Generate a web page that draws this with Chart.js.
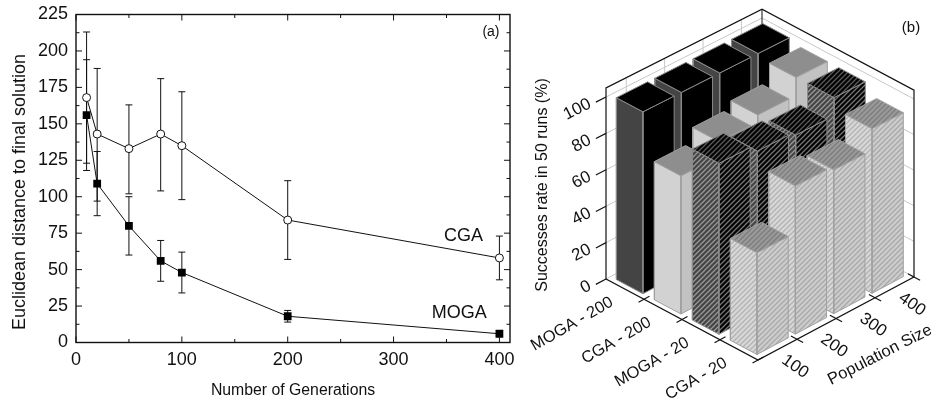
<!DOCTYPE html>
<html>
<head>
<meta charset="utf-8">
<script src="https://cdn.jsdelivr.net/npm/chart.js@4/dist/chart.umd.min.js"></script>
<style>
  body { margin: 0; background: #fff; }
  canvas { position: absolute; top: 0; }
  #panel-a { left: 0; }
  #panel-b { left: 520px; }
</style>
</head>
<body>
<canvas id="panel-a" width="520" height="400"></canvas>
<canvas id="panel-b" width="411" height="400"></canvas>
<script>
const FONT = '"Liberation Sans", Arial, sans-serif';
const INK = '#111';

// panel (a)
const generations = [10, 20, 50, 80, 100, 200, 400];
const cgaMean = [168, 143, 133, 143, 135, 84, 58];
const cgaHigh = [213, 188, 163, 181, 172, 111, 73];
const cgaLow = [123, 97, 102, 104, 98, 57, 43];
const mogaMean = [156, 109, 80, 56, 48, 18, 6];
const mogaHigh = [194, 131, 100, 70, 62, 22, 7];
const mogaLow = [118, 87, 60, 42, 34, 14, 5];
const genTicks = [0, 50, 100, 150, 200, 250, 300, 350, 400];
const distTicks = [0, 12.5, 25, 37.5, 50, 62.5, 75, 87.5, 100, 112.5, 125, 137.5, 150, 162.5, 175, 187.5, 200, 212.5, 225];

// panel (b)
const categories = ['MOGA - 200', 'CGA - 200', 'MOGA - 20', 'CGA - 20'];
const popSizes = [100, 200, 300, 400];
const moga200 = [100, 100, 100, 100];
const cga200 = [76, 84, 88, 98];
const moga20 = [94, 90, 88, 98];
const cga20 = [56, 82, 80, 92];
const rateTicks = [0, 20, 40, 60, 80, 100];

const hatch = (bg, fg) => {
  const n = 5;
  const c = document.createElement('canvas');
  c.width = c.height = n;
  const g = c.getContext('2d');
  g.fillStyle = bg;
  g.fillRect(0, 0, n, n);
  g.strokeStyle = fg;
  g.lineWidth = 1.25;
  g.beginPath();
  g.moveTo(-1, 1); g.lineTo(1, -1);
  g.moveTo(-1, n + 1); g.lineTo(n + 1, -1);
  g.moveTo(n - 1, n + 1); g.lineTo(n + 1, n - 1);
  g.stroke();
  return g.createPattern(c, 'repeat');
};

const errorBars = {
  id: 'errorBars',
  beforeDatasetsDraw(chart) {
    const { ctx, scales: { x, y } } = chart;
    ctx.save();
    ctx.strokeStyle = INK;
    ctx.lineWidth = 1;
    [[cgaHigh, cgaLow], [mogaHigh, mogaLow]].forEach(([high, low]) => {
      generations.forEach((g, i) => {
        const px = x.getPixelForValue(g);
        const top = y.getPixelForValue(high[i]);
        const bot = y.getPixelForValue(low[i]);
        ctx.beginPath();
        ctx.moveTo(px, top); ctx.lineTo(px, bot);
        ctx.moveTo(px - 3.5, top); ctx.lineTo(px + 3.5, top);
        ctx.moveTo(px - 3.5, bot); ctx.lineTo(px + 3.5, bot);
        ctx.stroke();
      });
    });
    ctx.restore();
  }
};

// ticks point inward on all four sides, chart.js can't do that on its own
const frame = {
  id: 'frame',
  afterDatasetsDraw(chart) {
    const { ctx, chartArea: a, scales: { x, y } } = chart;
    ctx.save();
    ctx.strokeStyle = INK;
    ctx.lineWidth = 1.4;
    ctx.strokeRect(a.left, a.top, a.width, a.height);
    ctx.lineWidth = 1;
    ctx.beginPath();
    genTicks.forEach(t => {
      const px = x.getPixelForValue(t);
      const len = t % 100 === 0 ? 6 : 3.5;
      ctx.moveTo(px, a.bottom); ctx.lineTo(px, a.bottom - len);
      ctx.moveTo(px, a.top); ctx.lineTo(px, a.top + len);
    });
    distTicks.forEach(t => {
      const py = y.getPixelForValue(t);
      const len = t % 25 === 0 ? 6 : 3.5;
      ctx.moveTo(a.left, py); ctx.lineTo(a.left + len, py);
      ctx.moveTo(a.right, py); ctx.lineTo(a.right - len, py);
    });
    ctx.stroke();
    ctx.fillStyle = INK;
    ctx.textAlign = 'center';
    ctx.textBaseline = 'middle';
    ctx.font = `18px ${FONT}`;
    ctx.fillText('CGA', x.getPixelForValue(366), y.getPixelForValue(73));
    ctx.fillText('MOGA', x.getPixelForValue(362), y.getPixelForValue(20));
    ctx.font = `14px ${FONT}`;
    ctx.fillText('(a)', x.getPixelForValue(392), y.getPixelForValue(213));
    // y title sits lower than the axis centre
    ctx.font = `18px ${FONT}`;
    ctx.translate(20, 192);
    ctx.rotate(-Math.PI / 2);
    ctx.fillText('Euclidean distance to final solution', 0, 0);
    ctx.restore();
  }
};

const points = ys => generations.map((g, i) => ({ x: g, y: ys[i] }));

new Chart(document.getElementById('panel-a'), {
  type: 'scatter',
  data: {
    datasets: [
      {
        label: 'CGA', data: points(cgaMean), showLine: true,
        borderColor: INK, borderWidth: 1, pointStyle: 'circle', pointRadius: 4,
        pointBackgroundColor: '#fff', pointBorderColor: INK, pointBorderWidth: 1
      },
      {
        label: 'MOGA', data: points(mogaMean), showLine: true,
        borderColor: INK, borderWidth: 1, pointStyle: 'rect', pointRadius: 5.5,
        pointBackgroundColor: '#000', pointBorderColor: '#000', pointBorderWidth: 0
      }
    ]
  },
  options: {
    responsive: false,
    animation: false,
    layout: { padding: { top: 14.5, right: 10 } },
    plugins: { legend: { display: false }, tooltip: { enabled: false } },
    scales: {
      x: {
        type: 'linear', min: 0, max: 410,
        afterBuildTicks: s => { s.ticks = genTicks.map(value => ({ value })); },
        afterFit: s => { s.height = 57.5; s.paddingLeft = 0; s.paddingRight = 0; },
        grid: { display: false, drawTicks: false },
        border: { display: false },
        ticks: {
          maxRotation: 0, autoSkip: false, padding: 7, color: INK,
          font: { family: FONT, size: 18 },
          callback: v => (v % 100 === 0 ? String(v) : '')
        },
        title: {
          display: true, text: 'Number of Generations', color: INK,
          font: { family: FONT, size: 15.8 }, padding: { top: 5, bottom: 0 }
        }
      },
      y: {
        min: 0, max: 225,
        afterBuildTicks: s => { s.ticks = distTicks.map(value => ({ value })); },
        afterFit: s => { s.width = 76; s.paddingTop = 0; s.paddingBottom = 0; },
        grid: { display: false, drawTicks: false },
        border: { display: false },
        ticks: {
          autoSkip: false, padding: 8, color: INK,
          font: { family: FONT, size: 18 },
          callback: v => (v % 25 === 0 ? String(v) : '')
        }
      }
    }
  },
  plugins: [errorBars, frame]
});

// panel (b): u runs along the categories, v along the population sizes
const corner = { x: 606, y: 279 };
const uStep = { x: 152, y: 81 };
const vStep = { x: 156, y: -83 };
const project = (u, v, h = 0) => ({
  x: corner.x + u * uStep.x + v * vStep.x,
  y: corner.y + u * uStep.y + v * vStep.y - h * (1.82 - 0.04 * v)
});

const rows = [
  { values: moga200, left: '#444', right: '#000', top: '#000', edge: '#8a8a8a' },
  { values: cga200, left: '#d2d2d2', right: '#c2c2c2', top: '#8e8e8e', edge: '#a0a0a0' },
  { values: moga20, left: hatch('#444', '#999'), right: hatch('#000', '#777'), top: hatch('#000', '#5c5c5c'), edge: '#8a8a8a' },
  { values: cga20, left: hatch('#d8d8d8', '#b2b2b2'), right: hatch('#cdcdcd', '#a8a8a8'), top: hatch('#9a9a9a', '#7c7c7c'), edge: '#a0a0a0' }
];

const polyline = (pts, color, width = 1, fillColor = null) => ({
  data: pts,
  showLine: true,
  pointRadius: 0,
  borderColor: color,
  borderWidth: width,
  backgroundColor: fillColor || 'transparent',
  fill: fillColor ? 'shape' : false
});

const sets = [];
const WALL = 105;
const GRID = '#c8c8c8';

// wall grid first so the bars cover it
rateTicks.forEach(t => {
  sets.push(polyline([project(0, 0, t), project(0, 1, t)], GRID));
  sets.push(polyline([project(0, 1, t), project(1, 1, t)], GRID));
});
popSizes.forEach((p, j) => {
  const v = 0.13 + j * 0.246;
  sets.push(polyline([project(0, v, 0), project(0, v, WALL)], GRID));
});

// box outline
sets.push(polyline([project(0, 0), project(0, 0, WALL), project(0, 1, WALL), project(1, 1, WALL), project(1, 1)], INK, 1.2));
sets.push(polyline([project(0, 1, 70), project(0, 1, WALL)], INK, 1));
sets.push(polyline([project(0, 0), project(1, 0), project(1, 1)], INK, 1.4));

// tick marks
rateTicks.forEach(t => {
  sets.push(polyline([project(0, 0, t), project(0, -0.065, t)], INK, 1.2));
});
categories.forEach((c, i) => {
  sets.push(polyline([project((i + 1) / 4, 0.035), project((i + 1) / 4, -0.035)], INK, 1.2));
});
popSizes.forEach((p, j) => {
  sets.push(polyline([project(0.96, (j + 1) / 4), project(1.04, (j + 1) / 4)], INK, 1.2));
});

// bars, back to front
rows.forEach((row, i) => {
  const u0 = (i + 0.5) / 4 - 0.0875;
  const u1 = u0 + 0.175;
  for (let j = popSizes.length - 1; j >= 0; j--) {
    const v0 = 0.03 + j * 0.246;
    const v1 = v0 + 0.2;
    const h = row.values[j];
    sets.push(polyline([project(u0, v0), project(u1, v0), project(u1, v0, h), project(u0, v0, h), project(u0, v0)], row.edge, 1, row.left));
    sets.push(polyline([project(u1, v0), project(u1, v1), project(u1, v1, h), project(u1, v0, h), project(u1, v0)], row.edge, 1, row.right));
    sets.push(polyline([project(u0, v0, h), project(u1, v0, h), project(u1, v1, h), project(u0, v1, h), project(u0, v0, h)], row.edge, 1, row.top));
  }
});

const rotatedText = (ctx, text, x, y, deg, align = 'center') => {
  ctx.save();
  ctx.translate(x, y);
  ctx.rotate(deg * Math.PI / 180);
  ctx.textAlign = align;
  ctx.fillText(text, 0, 0);
  ctx.restore();
};

const labels3d = {
  id: 'labels3d',
  afterDraw(chart) {
    const { ctx, scales: { x, y } } = chart;
    const at = p => [x.getPixelForValue(p.x), y.getPixelForValue(p.y)];
    ctx.save();
    ctx.fillStyle = INK;
    ctx.textBaseline = 'middle';
    ctx.font = `17px ${FONT}`;
    rateTicks.forEach(t => {
      const [px, py] = at(project(0, 0, t));
      rotatedText(ctx, String(t), px - 16, py + 6, -27, 'right');
    });
    ctx.font = `16.4px ${FONT}`;
    categories.forEach((c, i) => {
      const [px, py] = at(project((i + 0.5) / 4, 0));
      rotatedText(ctx, c, px - 13, py + 12, -30, 'right');
    });
    ctx.font = `17px ${FONT}`;
    popSizes.forEach((p, j) => {
      const [px, py] = at(project(1, (j + 0.5) / 4));
      rotatedText(ctx, String(p), px + 17.5, py + 17, 35);
    });
    ctx.font = `16.5px ${FONT}`;
    const [tx, ty] = at({ x: 880, y: 355 });
    rotatedText(ctx, 'Population Size', tx, ty, -27);
    ctx.font = `16px ${FONT}`;
    const [sx, sy] = at({ x: 543, y: 185 });
    rotatedText(ctx, 'Successes rate in 50 runs (%)', sx, sy, -90);
    ctx.font = `15px ${FONT}`;
    const [bx, by] = at({ x: 911, y: 28 });
    rotatedText(ctx, '(b)', bx, by, 0);
    ctx.restore();
  }
};

new Chart(document.getElementById('panel-b'), {
  type: 'scatter',
  // chart.js paints the first dataset last, so hand them over reversed
  data: { datasets: sets.reverse() },
  options: {
    responsive: false,
    animation: false,
    layout: { padding: 0 },
    plugins: { legend: { display: false }, tooltip: { enabled: false } },
    scales: {
      x: { type: 'linear', display: false, min: 520, max: 931 },
      y: { type: 'linear', display: false, min: 0, max: 400, reverse: true }
    }
  },
  plugins: [labels3d]
});
</script>
</body>
</html>
